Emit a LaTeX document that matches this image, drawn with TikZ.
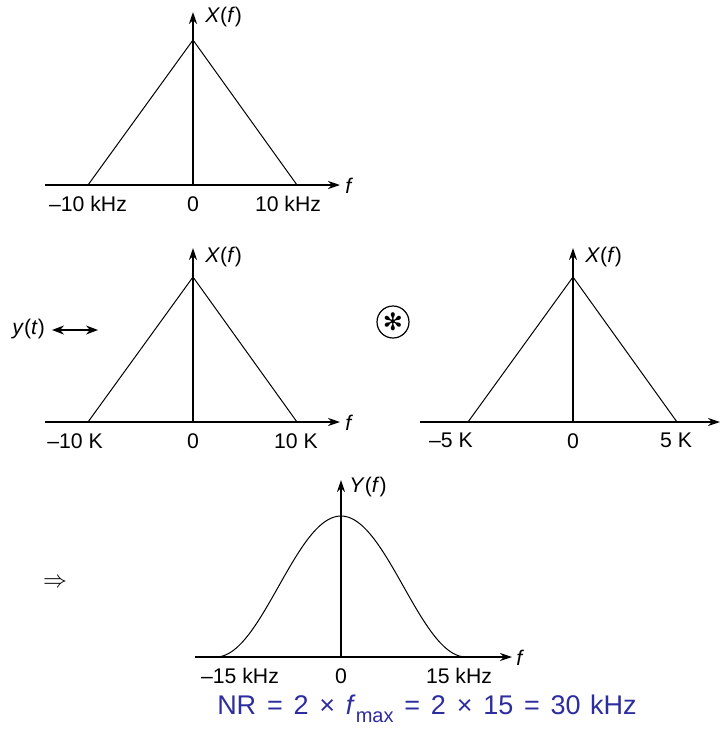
\documentclass[tikz,border=0pt]{standalone}
\usepackage{fontspec}
\setmainfont{Liberation Sans}
\newfontfamily\dingfont{DejaVu Sans}
\usetikzlibrary{arrows.meta,positioning}

\begin{document}
\begin{tikzpicture}[x=0.5pt, y=-0.5pt,
    axis/.style={-{Stealth[length=6pt, width=4pt]}, line width=0.9pt},
    spec/.style={line width=0.5pt},
    tick/.style={anchor=north, inner sep=0pt, font=\fontsize{10.6}{12}\selectfont},
    lbl/.style={anchor=west, inner sep=0pt, font=\fontsize{10.6}{12}\selectfont},
    note/.style={inner sep=0pt, font=\fontsize{13.5}{15}\selectfont, text=nrblue},
]
\definecolor{nrblue}{RGB}{45,45,160}
\useasboundingbox (0,0) rectangle (727,729);

% --- X(f), 10 kHz ---
\coordinate (h1l) at (45,185);
\coordinate (h1r) at (340,185);
\coordinate (o1) at (193,185);
\coordinate (v1t) at (193,12);
\coordinate (p1) at (193,40);
\coordinate (b1l) at (88,185);
\coordinate (b1r) at (297,185);
\draw[axis] (h1l) -- (h1r);
\draw[axis] (o1) -- (v1t);
\draw[spec] (b1l) -- (p1) -- (b1r);
\node[tick] (t1a) at (88,196) {–10 kHz};
\node[tick] (t1b) at (193,196) {0};
\node[tick] (t1c) at (288,196) {10 kHz};
\node[lbl] (f1) at (345,186) {\textit{f}};
\node[lbl] (x1) at (205,17) {\textit{X}(\textit{f})};

% --- X(f), 10 K ---
\coordinate (h2l) at (45,422);
\coordinate (h2r) at (340,422);
\coordinate (o2) at (193,422);
\coordinate (v2t) at (193,248);
\coordinate (p2) at (193,277);
\coordinate (b2l) at (88,422);
\coordinate (b2r) at (297,422);
\draw[axis] (h2l) -- (h2r);
\draw[axis] (o2) -- (v2t);
\draw[spec] (b2l) -- (p2) -- (b2r);
\node[tick] (t2a) at (75,433) {–10 K};
\node[tick] (t2b) at (193,433) {0};
\node[tick] (t2c) at (296,433) {10 K};
\node[lbl] (f2) at (345,423) {\textit{f}};
\node[lbl] (x2) at (205,257) {\textit{X}(\textit{f})};

% y(t) with double arrow
\node[lbl] (yt) at (12,329) {\textit{y}(\textit{t})};
\coordinate (d1) at (52,330);
\coordinate (d2) at (98,330);
\draw[{Stealth[length=6pt, width=4.5pt]}-{Stealth[length=6pt, width=4.5pt]}, line width=0.8pt] (d1) -- (d2);

% convolution sign
\node[circle, draw, line width=0.6pt, minimum size=16pt, inner sep=0pt,
      font=\dingfont\fontsize{12}{12}\selectfont] (conv) at (393,322) {✻};

% --- X(f), 5 K ---
\coordinate (h3l) at (420,422);
\coordinate (h3r) at (720,422);
\coordinate (o3) at (573,422);
\coordinate (v3t) at (573,248);
\coordinate (p3) at (573,277);
\coordinate (b3l) at (468,422);
\coordinate (b3r) at (677,422);
\draw[axis] (h3l) -- (h3r);
\draw[axis] (o3) -- (v3t);
\draw[spec] (b3l) -- (p3) -- (b3r);
\node[tick] (t3a) at (451,433) {–5 K};
\node[tick] (t3b) at (573,433) {0};
\node[tick] (t3c) at (676,433) {5 K};
\node[lbl] (x3) at (585,257) {\textit{X}(\textit{f})};

% implies
\node[inner sep=0pt, font=\fontsize{12}{12}\selectfont] (imp) at (55,583) {$\Rightarrow$};

% --- Y(f), 15 kHz ---
\coordinate (h4l) at (195,657);
\coordinate (h4r) at (512,657);
\coordinate (o4) at (341,657);
\coordinate (v4t) at (341,480);
\draw[axis] (h4l) -- (h4r);
\draw[axis] (o4) -- (v4t);
\draw[spec] plot[domain=-125:125, samples=100, smooth]
  ({341+\x}, {657-141*(0.5+0.5*cos(1.44*\x))});
\node[tick] (t4a) at (240,668) {–15 kHz};
\node[tick] (t4b) at (341,668) {0};
\node[tick] (t4c) at (459,668) {15 kHz};
\node[lbl] (f4) at (516,658) {\textit{f}};
\node[lbl] (y4) at (349,487) {\textit{Y}(\textit{f})};

% Nyquist rate
\node[note] (nr) at (427,709) {NR\hspace{0.4em}=\hspace{0.4em}2\hspace{0.4em}×\hspace{0.4em}\textit{f}\raisebox{-0.55ex}{\fontsize{10}{10}\selectfont max}\hspace{0.4em}=\hspace{0.4em}2\hspace{0.4em}×\hspace{0.4em}15\hspace{0.4em}=\hspace{0.4em}30\hspace{0.35em}kHz};

\end{tikzpicture}
\end{document}
